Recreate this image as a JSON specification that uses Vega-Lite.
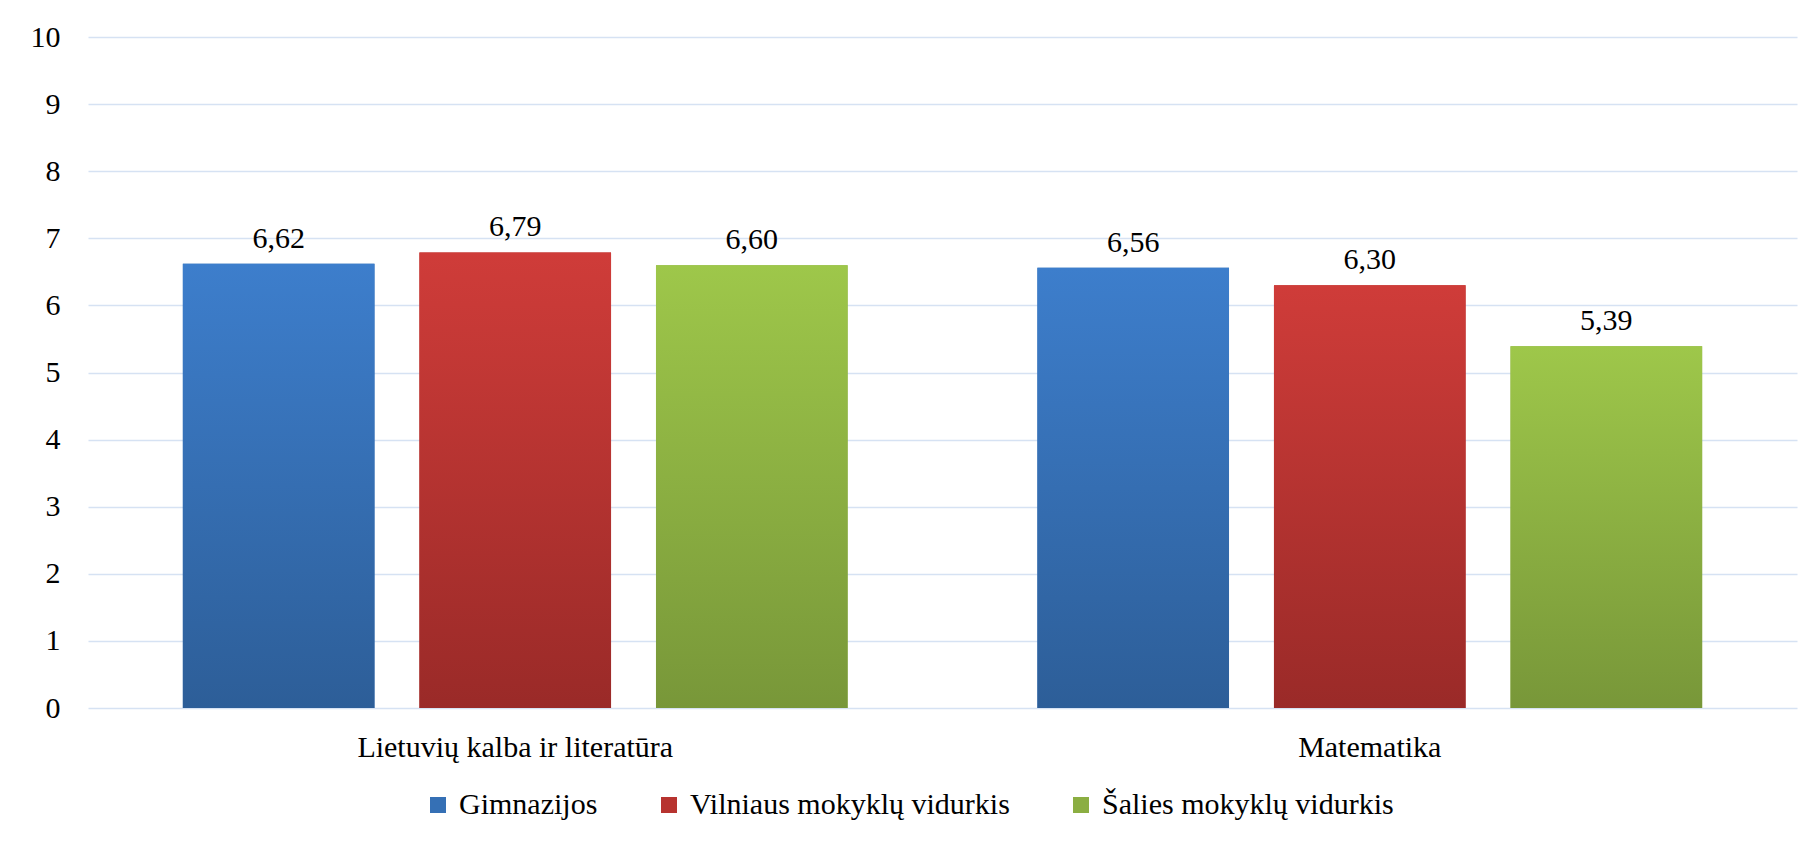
{
  "$schema": "https://vega.github.io/schema/vega-lite/v6.json",
  "width": 1709,
  "height": 671,
  "autosize": {"type": "none"},
  "padding": {"left": 88, "top": 37, "right": 22, "bottom": 135},
  "background": "white",
  "data": {
    "values": [
      {"subject": "Lietuvių kalba ir literatūra", "series": "Gimnazijos", "value": 6.62},
      {"subject": "Lietuvių kalba ir literatūra", "series": "Vilniaus mokyklų vidurkis", "value": 6.79},
      {"subject": "Lietuvių kalba ir literatūra", "series": "Šalies mokyklų vidurkis", "value": 6.60},
      {"subject": "Matematika", "series": "Gimnazijos", "value": 6.56},
      {"subject": "Matematika", "series": "Vilniaus mokyklų vidurkis", "value": 6.30},
      {"subject": "Matematika", "series": "Šalies mokyklų vidurkis", "value": 5.39}
    ]
  },
  "encoding": {
    "x": {
      "field": "subject", "type": "nominal", "sort": null,
      "scale": {"paddingInner": 0.2221, "paddingOuter": 0.111},
      "axis": {"title": null, "labelAngle": 0, "domain": false, "ticks": false, "labelPadding": 24, "labelBaseline": "top", "labelLimit": 0}
    },
    "xOffset": {
      "field": "series", "type": "nominal",
      "sort": ["Gimnazijos", "Vilniaus mokyklų vidurkis", "Šalies mokyklų vidurkis"],
      "scale": {"paddingInner": 0.19, "paddingOuter": 0}
    },
    "y": {
      "field": "value", "type": "quantitative",
      "scale": {"domain": [0, 10], "nice": false},
      "axis": {"title": null, "values": [0,1,2,3,4,5,6,7,8,9,10], "domain": false, "ticks": false, "labelPadding": 28, "grid": true}
    }
  },
  "layer": [
    {
      "mark": {"type": "bar"},
      "encoding": {
        "color": {
          "field": "series", "type": "nominal",
          "sort": ["Gimnazijos", "Vilniaus mokyklų vidurkis", "Šalies mokyklų vidurkis"],
          "scale": {
            "domain": ["Gimnazijos", "Vilniaus mokyklų vidurkis", "Šalies mokyklų vidurkis"],
            "range": ["#3570B5", "#B7332F", "#8BAE42"]
          },
          "legend": {
            "title": null,
            "orient": "none",
            "direction": "horizontal",
            "legendX": 335,
            "legendY": 753,
            "symbolType": "square",
            "symbolSize": 256,
            "symbolStrokeWidth": 0,
            "labelOffset": 6,
            "columnPadding": 56,
            "labelLimit": 600
          }
        }
      }
    },
    {
      "mark": {"type": "bar"},
      "encoding": {
        "fill": {
          "condition": [
            {"test": "datum.series === 'Gimnazijos'", "value": {"gradient": "linear", "x1": 0, "y1": 0, "x2": 0, "y2": 1, "stops": [{"offset": 0, "color": "#3D7ECC"}, {"offset": 1, "color": "#2D5E98"}]}},
            {"test": "datum.series === 'Vilniaus mokyklų vidurkis'", "value": {"gradient": "linear", "x1": 0, "y1": 0, "x2": 0, "y2": 1, "stops": [{"offset": 0, "color": "#CF3C39"}, {"offset": 1, "color": "#9A2A28"}]}}
          ],
          "value": {"gradient": "linear", "x1": 0, "y1": 0, "x2": 0, "y2": 1, "stops": [{"offset": 0, "color": "#9EC74A"}, {"offset": 1, "color": "#789739"}]}
        }
      }
    },
    {
      "mark": {"type": "text", "baseline": "alphabetic", "dy": -16, "fontSize": 30, "font": "Liberation Serif", "color": "#000000"},
      "encoding": {
        "text": {"field": "value", "type": "quantitative", "format": ".2f"}
      }
    }
  ],
  "config": {
    "locale": {"number": {"decimal": ",", "thousands": ".", "grouping": [3], "currency": ["", " €"]}},
    "view": {"stroke": null},
    "axis": {
      "labelFont": "Liberation Serif", "labelFontSize": 30, "labelColor": "#000000",
      "gridColor": "#D6E2F3", "gridWidth": 1.5
    },
    "legend": {"labelFont": "Liberation Serif", "labelFontSize": 30, "labelColor": "#000000"}
  }
}
